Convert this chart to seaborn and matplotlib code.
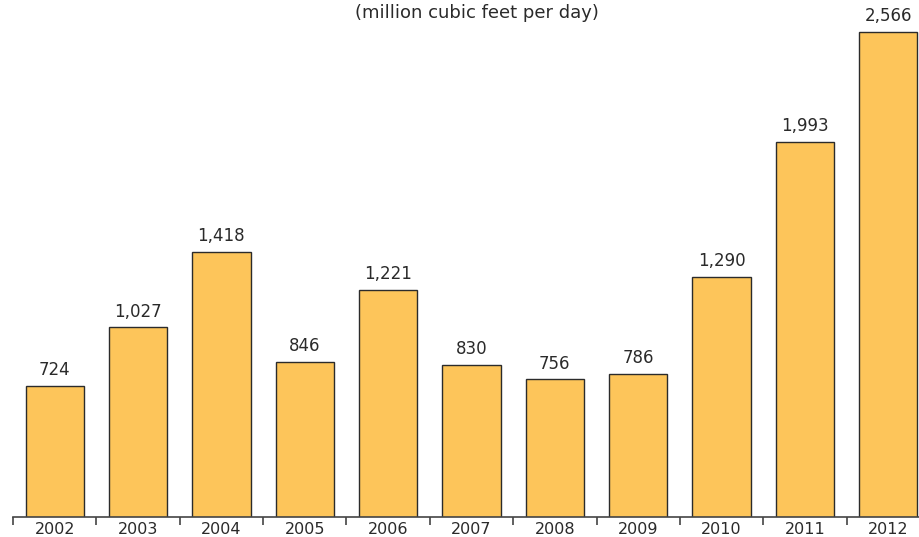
import pandas as pd
import matplotlib
matplotlib.use("Agg")
import matplotlib.pyplot as plt
import seaborn as sns

# data
years = ["2002", "2003", "2004", "2005", "2006", "2007", "2008", "2009", "2010", "2011", "2012"]
flows = [724, 1027, 1418, 846, 1221, 830, 756, 786, 1290, 1993, 2566]

df = pd.DataFrame({"year": years, "flow": flows})

sns.set_style("white")
plt.rcParams["font.family"] = ["DejaVu Sans"]
text_col = "#2a2a2a"

fig = plt.figure(figsize=(9.19, 5.37), dpi=100)
ax = fig.add_axes([13 / 919, 20 / 537, 917 / 919, 517 / 537])

sns.barplot(data=df, x="year", y="flow", color="#FDC55A", edgecolor="#2b2b2b",
            linewidth=1.0, width=0.7, saturation=1, ax=ax)

# value labels above bars
for i, v in enumerate(flows):
    ax.annotate(f"{v:,}", (i, v), xytext=(0, 5), textcoords="offset points",
                ha="center", va="bottom", fontsize=12, color=text_col)

ax.set_xlim(-0.5, len(years) - 0.5)
ax.set_ylim(40, 2732)

# tick marks between categories, labels centred
ax.set_xticks(range(len(years)))
ax.set_xticklabels(years, fontsize=11.5, color=text_col)
ax.tick_params(axis="x", which="major", length=0, pad=3.5)
ax.set_xticks([i - 0.5 for i in range(len(years) + 1)], minor=True)
ax.tick_params(axis="x", which="minor", bottom=True, length=6, width=1.2,
               color="#444444", direction="out")
ax.set_yticks([])
ax.set_xlabel("")
ax.set_ylabel("")

for s in ["top", "left", "right"]:
    ax.spines[s].set_visible(False)
ax.spines["bottom"].set_color("#444444")
ax.spines["bottom"].set_linewidth(1.2)

fig.text(477 / 919, 1 - 13 / 537, "(million cubic feet per day)", ha="center", va="center",
         fontsize=13, color=text_col)

fig.savefig("out.png", dpi=100)
